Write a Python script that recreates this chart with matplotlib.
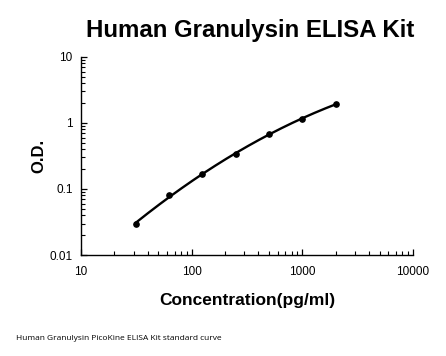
import numpy as np
import matplotlib.pyplot as plt

conc = [31.25, 62.5, 125, 250, 500, 1000, 2000]
od = [0.0295, 0.081, 0.168, 0.335, 0.68, 1.15, 1.95]

title = "Human Granulysin ELISA Kit"
xlabel = "Concentration(pg/ml)"
ylabel = "O.D."
note = "Human Granulysin PicoKine ELISA Kit standard curve"

plt.rcParams['font.family'] = ['Liberation Sans', 'DejaVu Sans']

fig = plt.figure(figsize=(4.46, 3.56), dpi=100)
ax = fig.add_axes([0.1816, 0.2837, 0.7444, 0.5563])

# smooth curve: quadratic fit in log-log space
lx = np.log10(conc)
ly = np.log10(od)
coef = np.polyfit(lx, ly, 2)
xs = np.linspace(lx[0], lx[-1], 200)
ax.plot(10**xs, 10**np.polyval(coef, xs), color='black', lw=1.7)
ax.plot(conc, od, 'o', color='black', ms=3.8)

ax.set_xscale('log')
ax.set_yscale('log')
ax.set_xlim(10, 10000)
ax.set_ylim(0.01, 10)
ax.set_xticks([10, 100, 1000, 10000])
ax.set_xticklabels(['10', '100', '1000', '10000'])
ax.set_yticks([0.01, 0.1, 1, 10])
ax.set_yticklabels(['0.01', '0.1', '1', '10'])

for s in ['top', 'right']:
	ax.spines[s].set_visible(False)
for s in ['left', 'bottom']:
	ax.spines[s].set_linewidth(1.0)

ax.tick_params(which='major', direction='in', length=4, width=0.9, labelsize=8.5)
ax.tick_params(which='minor', direction='in', length=3, width=0.8)
ax.tick_params(axis='x', pad=8)
ax.tick_params(axis='y', pad=6)

ax.set_xlabel(xlabel, fontsize=12.5, fontweight='bold', labelpad=11)
ax.set_ylabel(ylabel, fontsize=12, fontweight='bold', labelpad=2)

fig.text(0.56, 0.915, title, ha='center', va='center', fontsize=17.3, fontweight='bold')
fig.text(0.036, 0.05, note, ha='left', va='center', fontsize=6, family=['Open Sans', 'DejaVu Sans'])

fig.savefig('out.png', dpi=100)
